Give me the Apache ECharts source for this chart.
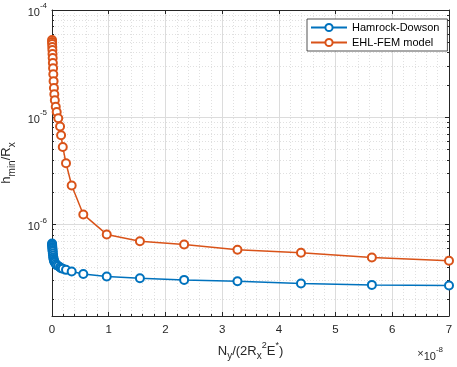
<!DOCTYPE html>
<html>
<head>
<meta charset="utf-8">
<script src="https://cdn.jsdelivr.net/npm/echarts@6/dist/echarts.min.js"></script>
<style>
  html, body { margin: 0; padding: 0; background: #fff; }
  #chart { width: 457px; height: 367px; }
</style>
</head>
<body>
<div id="chart"></div>
<script>
// Ny/(2 Rx^2 E*) in units of 1e-8
const nyScaled = [
  0.001, 0.002, 0.003, 0.005, 0.007, 0.009, 0.012, 0.015, 0.019, 0.023,
  0.028, 0.034, 0.041, 0.05, 0.066, 0.083, 0.11, 0.142, 0.16, 0.19,
  0.247, 0.347, 0.552, 0.965, 1.55, 2.33, 3.27, 4.39, 5.64, 7.0
];
// hmin/Rx
const hamrockDowson = [
  6.64e-7, 6.5e-7, 6.36e-7, 6.17e-7, 5.97e-7, 5.78e-7, 5.6e-7, 5.36e-7, 5.13e-7, 4.92e-7,
  4.76e-7, 4.61e-7, 4.51e-7, 4.41e-7, 4.27e-7, 4.17e-7, 4.1e-7, 3.99e-7, 3.9e-7, 3.87e-7,
  3.77e-7, 3.64e-7, 3.45e-7, 3.27e-7, 3.15e-7, 3.04e-7, 2.95e-7, 2.81e-7, 2.73e-7, 2.69e-7
];
const ehlFem = [
  5.25e-5, 5.03e-5, 4.81e-5, 4.51e-5, 4.23e-5, 3.88e-5, 3.56e-5, 3.2e-5, 2.87e-5, 2.52e-5,
  2.17e-5, 1.87e-5, 1.64e-5, 1.44e-5, 1.25e-5, 1.12e-5, 9.8e-6, 8.2e-6, 6.8e-6, 5.28e-6,
  3.72e-6, 2.31e-6, 1.24e-6, 8.07e-7, 6.98e-7, 6.5e-7, 5.8e-7, 5.45e-7, 4.92e-7, 4.58e-7
];
const seriesNames = ["Hamrock-Dowson", "EHL-FEM model"];
const yMajorTicks = [1e-6, 1e-5, 1e-4];
const yMinorTicks = [
  2e-7, 3e-7, 4e-7, 5e-7, 6e-7, 7e-7, 8e-7, 9e-7,
  2e-6, 3e-6, 4e-6, 5e-6, 6e-6, 7e-6, 8e-6, 9e-6,
  2e-5, 3e-5, 4e-5, 5e-5, 6e-5, 7e-5, 8e-5, 9e-5
];
const yMin = 1.4e-7;
const yMax = 1e-4;

const axisColor = "#262626";
const gridColor = "#dcdcdc";
const fontFamily = "Liberation Sans, Arial, sans-serif";

function pairs(ys) {
  return nyScaled.map((x, i) => [x, ys[i]]);
}

function powLabel(v) {
  const e = Math.log10(v);
  if (Math.abs(e - Math.round(e)) > 1e-6) return "";
  return "{b|10}{sup|" + Math.round(e) + "}";
}

const labelRich = {
  b: { fontSize: 11, lineHeight: 16, verticalAlign: "bottom", color: axisColor, fontFamily: fontFamily },
  sup: { fontSize: 8, lineHeight: 9, verticalAlign: "top", color: axisColor, fontFamily: fontFamily },
};

// rich styles for axis titles (sub/superscripts)
const nameRich = {
  n: { fontSize: 13, lineHeight: 20, verticalAlign: "middle", color: axisColor, fontFamily: fontFamily },
  sub: { fontSize: 10, lineHeight: 10, verticalAlign: "bottom", color: axisColor, fontFamily: fontFamily },
  sup: { fontSize: 9, lineHeight: 11, verticalAlign: "top", color: axisColor, fontFamily: fontFamily },
};

const chart = echarts.init(document.getElementById("chart"));

function logAxis(extra) {
  return Object.assign({
    type: "log",
    logBase: 10,
    min: yMin,
    max: yMax,
    axisLine: { show: true, lineStyle: { color: axisColor, width: 1 } },
    axisLabel: { show: false },
    axisTick: { show: false },
    splitLine: { show: false },
  }, extra);
}

chart.setOption({
  animation: false,
  backgroundColor: "#fff",
  textStyle: { fontFamily: fontFamily },
  grid: { left: 52, right: 8, top: 10, bottom: 51, containLabel: false, outerBoundsMode: "none" },
  color: ["#0072BD", "#D95319"],
  title: {
    text: "×{b|10}{sup|-8}",
    right: 9,
    top: 341,
    textStyle: { fontSize: 11, fontWeight: "normal", color: axisColor, rich: labelRich },
  },
  legend: {
    orient: "vertical",
    left: 307,
    top: 19,
    itemWidth: 36,
    itemHeight: 9,
    itemGap: 4,
    padding: [3, 8, 3, 3],
    borderColor: axisColor,
    borderWidth: 0.8,
    backgroundColor: "#fff",
    data: seriesNames,
    textStyle: { fontSize: 11, color: "#000", fontFamily: fontFamily },
  },
  xAxis: [
    {
      type: "value",
      min: 0,
      max: 7,
      interval: 1,
      name: "{n|N}{sub|y}{n|/(2R}{sub|x}{sup|2}{n|E}{sup|*}{n|)}",
      nameLocation: "middle",
      nameGap: 25,
      nameTextStyle: { rich: nameRich },
      axisLine: { show: true, onZero: false, lineStyle: { color: axisColor, width: 1 } },
      axisTick: { show: true, inside: true, length: 4, lineStyle: { color: axisColor } },
      minorTick: { show: true, splitNumber: 5, length: 2, lineStyle: { color: axisColor } },
      axisLabel: { color: axisColor, fontSize: 11.5, margin: 8 },
      splitLine: { show: true, lineStyle: { color: gridColor, width: 1 } },
      minorSplitLine: { show: true, lineStyle: { color: "#e0e0e0", type: [1, 2], width: 1 } },
    },
    {
      type: "value",
      position: "top",
      min: 0,
      max: 7,
      interval: 1,
      axisLine: { show: true, onZero: false, lineStyle: { color: axisColor, width: 1 } },
      axisTick: { show: true, inside: true, length: 4, lineStyle: { color: axisColor } },
      axisLabel: { show: false },
      splitLine: { show: false },
    },
  ],
  yAxis: [
    logAxis({
      position: "left",
      name: "{n|h}{sub|min}{n|/R}{sub|x}",
      nameLocation: "middle",
      nameGap: 27,
      nameTextStyle: { rich: nameRich },
      axisTick: { show: true, inside: true, length: 4, customValues: yMajorTicks, lineStyle: { color: axisColor } },
      axisLabel: { show: true, customValues: yMajorTicks, formatter: powLabel, margin: 5, rich: labelRich },
      splitLine: { show: true, lineStyle: { color: gridColor, width: 1 } },
    }),
    logAxis({
      position: "left",
      axisLine: { show: false },
      axisTick: { show: true, inside: true, length: 2, customValues: yMinorTicks, lineStyle: { color: axisColor } },
      splitLine: { show: true, lineStyle: { color: "#e0e0e0", type: [1, 2], width: 1 } },
    }),
    logAxis({
      position: "right",
      axisTick: { show: true, inside: true, length: 4, customValues: yMajorTicks, lineStyle: { color: axisColor } },
    }),
    logAxis({
      position: "right",
      axisLine: { show: false },
      axisTick: { show: true, inside: true, length: 2, customValues: yMinorTicks, lineStyle: { color: axisColor } },
    }),
  ],
  series: [
    {
      name: seriesNames[0],
      type: "line",
      data: pairs(hamrockDowson),
      symbol: "emptyCircle",
      symbolSize: 8,
      showAllSymbol: true,
      lineStyle: { width: 1.5 },
      itemStyle: { borderWidth: 1.5 },
      z: 3,
    },
    {
      name: seriesNames[1],
      type: "line",
      data: pairs(ehlFem),
      symbol: "emptyCircle",
      symbolSize: 8,
      showAllSymbol: true,
      lineStyle: { width: 1.5 },
      itemStyle: { borderWidth: 1.5 },
      z: 3,
    },
  ],
});
</script>
</body>
</html>
